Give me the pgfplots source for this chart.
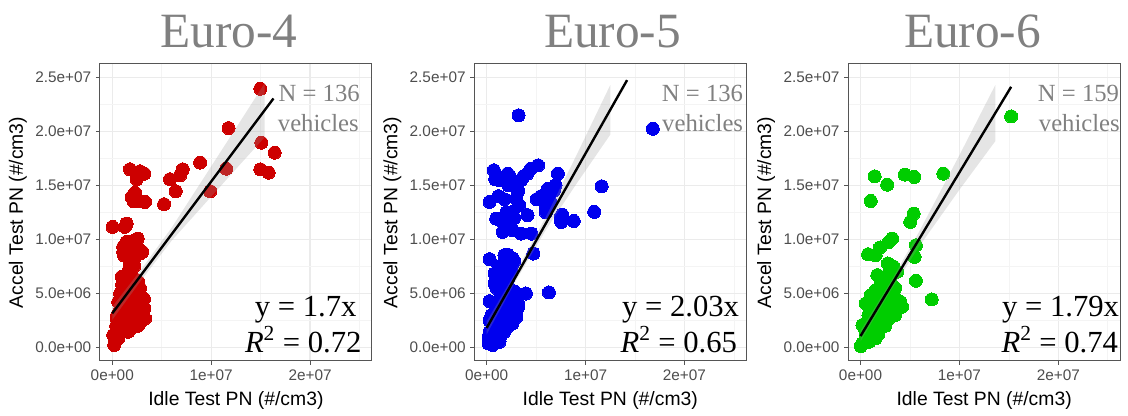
\documentclass[border=0pt]{standalone}
\usepackage{fontspec}
\setmainfont{Liberation Sans}
\newfontfamily\tnr{Liberation Serif}
\usepackage{pgfplots}
\pgfplotsset{compat=1.18}
\definecolor{red3}{HTML}{CD0000}
\definecolor{blue2}{HTML}{0000EE}
\definecolor{green3}{HTML}{00CD00}
\definecolor{titlegray}{HTML}{808080}
\definecolor{ticklab}{HTML}{4D4D4D}
\definecolor{border}{HTML}{555555}
\definecolor{gmaj}{HTML}{EBEBEB}
\definecolor{gmin}{HTML}{F4F4F4}
\pgfplotsset{
  panel/.style={
    scale only axis, width=204pt, height=222.75pt,
    anchor=south west, clip mode=individual,
    xmin=-0.125, xmax=2.625, ymin=-0.125, ymax=2.625,
    xtick={0,1,2}, xticklabels={0e+00,1e+07,2e+07},
    minor xtick={0.5,1.5,2.5},
    ytick={0,0.5,1,1.5,2,2.5},
    yticklabels={0.0e+00,5.0e+06,1.0e+07,1.5e+07,2.0e+07,2.5e+07},
    minor ytick={0.25,0.75,1.25,1.75,2.25},
    xtick pos=bottom, ytick pos=left,
    tick align=outside, major tick length=3pt, minor tick length=0pt,
    tick style={draw=border, line width=0.8pt},
    axis line style={draw=border, line width=0.8pt},
    grid=both,
    major grid style={draw=gmaj, line width=0.9pt},
    minor grid style={draw=gmin, line width=0.45pt},
    tick label style={font=\fontsize{11.5}{12}\selectfont, text=ticklab},
    xlabel={Idle Test PN (\#/cm3)},
    ylabel={Accel Test PN (\#/cm3)},
    label style={font=\fontsize{14.5}{16}\selectfont, text=black},
    xlabel style={at={(axis description cs:0.5,-0.1515)}, anchor=base},
    ylabel style={at={(axis description cs:-0.283,0.5)}, anchor=base},
  },
  pts/.style={only marks, color=#1, mark=*, mark size=4.9pt, mark options={solid, draw=#1, fill=#1, line width=0pt}},
  band/.style={fill=black!40, fill opacity=0.25, draw=none},
  fit/.style={black, line width=1.8pt},
}
\begin{document}
\begin{tikzpicture}[x=0.75pt,y=0.75pt]
\path[use as bounding box] (0,0) rectangle (1128,416);

% ---------------- Euro-4 ----------------
\begin{axis}[panel, at={(101,51)}]
\addplot[pts=red3] coordinates {
(1.497,2.395)(1.176,2.031)(1.507,1.896)(1.642,1.803)(1.497,1.649)(1.581,1.618)
(1.152,1.655)(0.889,1.711)(0.990,1.446)(0.713,1.649)(0.686,1.594)(0.584,1.557)
(0.642,1.446)(0.524,1.326)(0.179,1.649)(0.280,1.631)(0.324,1.609)(0.247,1.557)
(0.230,1.433)(0.196,1.393)(0.257,1.356)(0.331,1.347)(0.213,1.356)(0.003,1.116)
(0.145,1.147)(0.128,1.116)(0.257,1.008)(0.203,0.983)(0.145,0.977)(0.111,0.931)
(0.179,0.885)(0.304,0.885)(0.111,0.885)(0.223,0.823)(0.179,0.777)(0.095,0.654)
(0.145,0.669)(0.179,0.607)(0.111,0.561)(0.264,0.607)(0.162,0.546)(0.280,0.546)
(0.230,0.484)(0.297,0.422)(0.196,0.391)(0.314,0.330)(0.247,0.237)(0.297,0.299)
(0.128,0.268)(0.078,0.237)(0.044,0.268)(0.061,0.191)(0.111,0.145)(0.010,0.114)
(0.027,0.052)(0.020,0.022)(0.162,0.361)(0.230,0.330)(0.128,0.422)(0.179,0.237)
(0.213,0.191)(0.162,0.145)(0.264,0.207)(0.331,0.268)(0.324,0.361)(0.280,0.469)
(0.095,0.176)(0.034,0.129)(0.061,0.083)
(0.05,0.30)(0.08,0.35)(0.12,0.40)(0.15,0.45)(0.18,0.50)(0.20,0.30)(0.22,0.35)
(0.25,0.40)(0.27,0.30)(0.30,0.25)(0.32,0.45)(0.28,0.55)(0.24,0.60)(0.21,0.65)
(0.14,0.62)(0.10,0.58)(0.08,0.50)(0.06,0.42)(0.04,0.20)(0.02,0.10)(0.07,0.12)
(0.12,0.22)(0.16,0.28)(0.19,0.18)(0.23,0.25)(0.26,0.20)(0.29,0.36)(0.31,0.39)
(0.20,0.90)(0.25,0.93)(0.16,0.95)(0.28,0.87)(0.22,0.75)(0.17,0.72)(0.12,0.85)
};
\addplot[band] coordinates {(0,0.375)(0.3,0.731)(0.6,1.108)(1.0,1.676)(1.3,2.102)(1.54,2.445)
(1.54,1.945)(1.3,1.702)(1.0,1.396)(0.6,0.988)(0.3,0.631)(0,0.255)};
\addplot[fit] coordinates {(0,0.315)(1.63,2.305)};
\end{axis}

% ---------------- Euro-5 ----------------
\begin{axis}[panel, at={(479.5,51)}]
\addplot[pts=blue2] coordinates {
(0.323,2.149)(1.680,2.025)(1.163,1.492)(1.087,1.255)(0.880,1.171)(0.763,1.230)
(0.753,1.162)(0.720,1.609)(0.697,1.501)(0.620,1.470)(0.647,1.347)(0.597,1.301)
(0.520,1.686)(0.447,1.655)(0.413,1.609)(0.507,1.372)(0.347,1.548)(0.297,1.517)
(0.213,1.609)(0.130,1.548)(0.073,1.640)(0.087,1.557)(0.030,1.347)(0.180,1.372)
(0.297,1.378)(0.330,1.316)(0.413,1.224)(0.263,1.255)(0.097,1.193)(0.163,1.162)
(0.213,1.131)(0.163,1.070)(0.263,1.085)(0.347,1.054)(0.453,1.054)(0.473,0.869)
(0.030,0.817)(0.180,0.854)(0.263,0.823)(0.197,0.777)(0.080,0.684)(0.247,0.700)
(0.163,0.638)(0.080,0.592)(0.213,0.576)(0.397,0.499)(0.630,0.509)(0.030,0.428)
(0.147,0.484)(0.247,0.469)(0.297,0.391)(0.197,0.391)(0.113,0.345)(0.280,0.299)
(0.213,0.268)(0.080,0.237)(0.147,0.191)(0.030,0.145)(0.047,0.083)(0.020,0.037)
(0.097,0.114)(0.130,0.052)(0.063,0.022)(0.180,0.145)(0.240,0.237)(0.297,0.314)
(0.063,0.268)(0.113,0.237)(0.313,0.361)
(0.05,0.30)(0.10,0.30)(0.15,0.35)(0.20,0.40)(0.25,0.45)(0.30,0.45)(0.12,0.42)
(0.08,0.18)(0.15,0.12)(0.20,0.18)(0.26,0.22)(0.30,0.28)(0.32,0.40)(0.18,0.50)
(0.22,0.55)(0.28,0.52)(0.10,0.55)(0.03,0.25)(0.02,0.10)(0.07,0.05)(0.13,0.27)
(0.24,0.33)(0.17,0.23)(0.29,0.36)(0.14,0.62)(0.22,0.64)(0.19,0.70)(0.26,0.77)
(0.12,0.75)(0.21,0.86)(0.28,0.80)
(0.12,1.40)(0.20,1.25)(0.28,1.20)(0.22,1.50)(0.32,1.45)(0.55,1.40)(0.60,1.25)
(0.68,1.45)(0.75,1.21)(0.23,1.59)(0.37,1.58)
};
\addplot[band] coordinates {(0,0.24)(0.3,0.705)(0.6,1.21)(0.9,1.764)(1.25,2.43)
(1.25,1.97)(0.9,1.504)(0.6,1.09)(0.3,0.625)(0,0.12)};
\addplot[fit] coordinates {(0,0.18)(1.42,2.475)};
\end{axis}

% ---------------- Euro-6 ----------------
\begin{axis}[panel, at={(857.5,51)}]
\addplot[pts=green3] coordinates {
(1.523,2.139)(0.837,1.609)(0.447,1.600)(0.543,1.578)(0.143,1.584)(0.270,1.507)
(0.103,1.356)(0.537,1.239)(0.503,1.162)(0.320,1.008)(0.287,0.977)(0.077,0.863)
(0.197,0.925)(0.153,0.854)(0.560,0.946)(0.547,0.838)(0.277,0.777)(0.303,0.731)
(0.170,0.669)(0.370,0.700)(0.560,0.617)(0.720,0.444)(0.253,0.607)(0.220,0.546)
(0.103,0.484)(0.053,0.407)(0.153,0.407)(0.303,0.546)(0.337,0.484)(0.403,0.422)
(0.420,0.376)(0.270,0.422)(0.187,0.345)(0.287,0.284)(0.237,0.237)(0.137,0.268)
(0.020,0.207)(0.087,0.237)(0.103,0.145)(0.170,0.176)(0.053,0.099)(0.020,0.037)
(0.087,0.052)(0.003,0.012)(0.220,0.191)(0.320,0.299)(0.153,0.083)(0.120,0.484)
(0.153,0.530)
(0.05,0.15)(0.08,0.30)(0.12,0.33)(0.16,0.25)(0.20,0.30)(0.24,0.35)(0.27,0.45)
(0.30,0.40)(0.33,0.36)(0.35,0.30)(0.22,0.45)(0.18,0.42)(0.14,0.38)(0.10,0.22)
(0.06,0.08)(0.12,0.12)(0.18,0.12)(0.25,0.20)(0.28,0.26)(0.31,0.50)(0.27,0.58)
(0.24,0.65)(0.30,0.62)(0.20,0.58)(0.35,0.55)(0.29,0.70)(0.33,0.75)
};
\addplot[band] coordinates {(0,0.155)(0.3,0.600)(0.6,1.084)(1.0,1.780)(1.363,2.43)
(1.363,1.91)(1.0,1.46)(0.6,0.944)(0.3,0.52)(0,0.055)};
\addplot[fit] coordinates {(0,0.105)(1.523,2.413)};
\end{axis}

% ---------------- titles and annotations ----------------
\tikzset{ttl/.style={font=\tnr\fontsize{37}{40}\selectfont, text=titlegray, anchor=base, inner sep=0pt},
         nn/.style={font=\tnr\fontsize{18.5}{20}\selectfont, text=titlegray, anchor=base east, inner sep=0pt},
         eq/.style={font=\tnr\fontsize{23}{25}\selectfont, text=black, anchor=base east, inner sep=0pt}}
\node[ttl] at (229,368) {Euro-4};
\node[ttl] at (612.5,368) {Euro-5};
\node[ttl] at (972.5,368) {Euro-6};

\node[nn] at (360,314.3) {N = 136};
\node[nn] at (359,284.3) {vehicles};
\node[nn] at (743.3,314.3) {N = 136};
\node[nn] at (743.3,284.3) {vehicles};
\node[nn] at (1119.3,314.3) {N = 159};
\node[nn] at (1120,284.3) {vehicles};

\node[eq] at (356.7,99) {y = 1.7x};
\node[eq] at (361.7,63) {\itshape R\textsuperscript{\upshape 2}\upshape{} = 0.72};
\node[eq] at (739.3,99) {y = 2.03x};
\node[eq] at (737.3,63) {\itshape R\textsuperscript{\upshape 2}\upshape{} = 0.65};
\node[eq] at (1119.3,99) {y = 1.79x};
\node[eq] at (1118.3,63) {\itshape R\textsuperscript{\upshape 2}\upshape{} = 0.74};
\end{tikzpicture}
\end{document}
